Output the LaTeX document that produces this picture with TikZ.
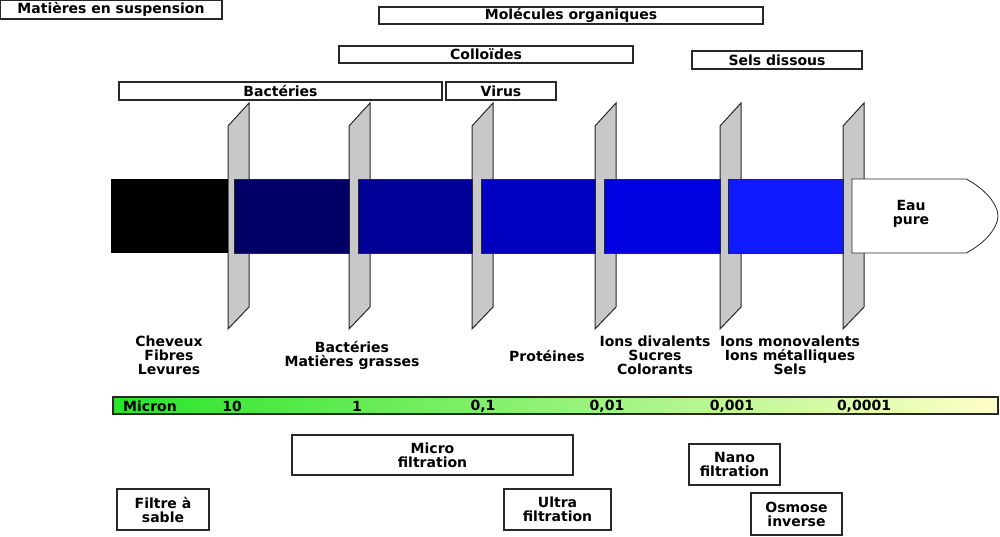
\documentclass[tikz,border=0pt]{standalone}
\usepackage{fontspec}
\setmainfont{DejaVu Sans}
\usepackage{tikz}
\usetikzlibrary{calc}

\definecolor{membrane}{RGB}{200,200,200}
\definecolor{bord}{RGB}{40,40,40}
\definecolor{bleuA}{RGB}{0,0,102}
\definecolor{bleuB}{RGB}{0,0,150}
\definecolor{bleuC}{RGB}{0,0,192}
\definecolor{bleuD}{RGB}{0,0,225}
\definecolor{bleuE}{RGB}{16,26,255}
\definecolor{vertmicron}{RGB}{40,228,40}
\definecolor{jaunemicron}{RGB}{255,255,200}

\tikzset{
  boite/.style={draw=bord,line width=1.2pt,fill=white,inner sep=0pt,
    font=\bfseries\fontsize{14}{14}\selectfont,align=center},
  etiquette/.style={font=\bfseries\fontsize{14}{14}\selectfont,align=center,inner sep=0pt},
  membr/.style={draw=bord,line width=1pt,fill=membrane},
  troncon/.style={draw=bord,line width=0.8pt},
  echelle/.style={font=\bfseries\fontsize{14}{14}\selectfont,inner sep=0pt}
}

\begin{document}
\begin{tikzpicture}[x=1pt,y=-1pt]
    \useasboundingbox (0,0) rectangle (1000,536);
        % familles de particules
        \node[boite,minimum width=222pt,minimum height=19pt] (suspension) at (111,9.5) {Matières en suspension};
        \node[boite,minimum width=384pt,minimum height=17pt] (organiques) at (571,15.5) {Molécules organiques};
        \node[boite,minimum width=294pt,minimum height=17pt] (colloides) at (486,54.5) {Colloïdes};
        \node[boite,minimum width=170pt,minimum height=18pt] (sels) at (777,60) {Sels dissous};
        \node[boite,minimum width=323pt,minimum height=18pt] (bacteries) at (280.5,91) {Bactéries};
        \node[boite,minimum width=110pt,minimum height=18pt] (virus) at (501,91) {Virus};
        % membranes
        \draw[membr] (228,126) -- (249,103) -- (249,307) -- (228,329) -- cycle;
        \draw[membr] (349,126) -- (370,103) -- (370,307) -- (349,329) -- cycle;
        \draw[membr] (472,126) -- (493,103) -- (493,307) -- (472,329) -- cycle;
        \draw[membr] (595,126) -- (616,103) -- (616,307) -- (595,329) -- cycle;
        \draw[membr] (720,126) -- (741,103) -- (741,307) -- (720,329) -- cycle;
        \draw[membr] (843,126) -- (864,103) -- (864,307) -- (843,329) -- cycle;
        % flux
        \fill[black] (111,179) rectangle (228,253);
        \draw[troncon,fill=bleuA] (234,179) rectangle (349,253);
        \draw[troncon,fill=bleuB] (358,179) rectangle (472,253);
        \draw[troncon,fill=bleuC] (481,179) rectangle (595,253);
        \draw[troncon,fill=bleuD] (604,179) rectangle (720,253);
        \draw[troncon,fill=bleuE] (728,179) rectangle (843,253);
        \draw[troncon,fill=white] (852,179) -- (966,179)
            .. controls (984,188) and (998,204) .. (998,216)
            .. controls (998,228) and (984,244) .. (966,253) -- (852,253) -- cycle;
        \node[etiquette] (eau) at (911,214) {Eau\\pure};
        % exemples
        \node[etiquette] (cheveux) at (169,355) {Cheveux\\Fibres\\Levures};
        \node[etiquette] (grasses) at (352,355) {Bactéries\\Matières grasses};
        \node[etiquette] (proteines) at (547,356) {Protéines};
        \node[etiquette] (divalents) at (655,355) {Ions divalents\\Sucres\\Colorants};
        \node[etiquette] (monovalents) at (790,355) {Ions monovalents\\Ions métalliques\\Sels};
        % echelle
        \shade[left color=vertmicron,right color=jaunemicron] (113,397) rectangle (998,414);
        \draw[bord,line width=1.2pt] (113,397) rectangle (998,414);
        \node[echelle] (micron) at (150,406) {Micron};
        \node[echelle] (dix) at (232,406) {10};
        \node[echelle] (un) at (357,406) {1};
        \node[echelle] (dixieme) at (483,406) {0,1};
        \node[echelle] (centieme) at (607,406) {0,01};
        \node[echelle] (millieme) at (732,406) {0,001};
        \node[echelle] (dixmill) at (864,406) {0,0001};
        % procedes
        \node[boite,minimum width=281pt,minimum height=40pt] (micro) at (432.5,455) {Micro\\filtration};
        \node[boite,minimum width=92pt,minimum height=41pt] (sable) at (163,509.5) {Filtre à\\sable};
        \node[boite,minimum width=107pt,minimum height=41pt] (ultra) at (557.5,509.5) {Ultra\\filtration};
        \node[boite,minimum width=91pt,minimum height=41pt] (nano) at (734.5,464.5) {Nano\\filtration};
        \node[boite,minimum width=91pt,minimum height=42pt] (osmose) at (796.5,514) {Osmose\\inverse};
    \end{tikzpicture}
\end{document}
